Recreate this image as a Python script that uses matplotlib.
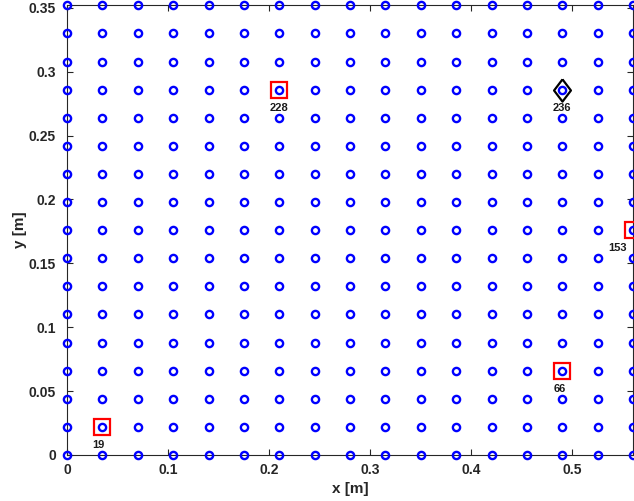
import numpy as np
import matplotlib.pyplot as plt

# sensor grid: 17 columns along x, 17 rows along y
x_nodes = [0.035 * i for i in range(17)]
y_nodes = [0.022 * j for j in range(17)]

# selected node numbers (row-major, 1-based)
picked = [19, 228, 66, 153]
reference_node = 236
label_dx = {19: -3, 228: 0, 236: 0, 66: -2, 153: -11}  # label nudges in points

xx, yy = np.meshgrid(x_nodes, y_nodes)
px = xx.ravel()
py = yy.ravel()

plt.rcParams['font.family'] = ['Liberation Sans', 'DejaVu Sans']
plt.rcParams['font.weight'] = 'bold'

fig = plt.figure(figsize=(6.34, 5.01), dpi=100)
ax = fig.add_axes([67 / 634, 46 / 501, 566 / 634, 449.7 / 501])

ax.plot(px, py, 'o', ls='none', mfc='none', mec=(0, 0, 1), ms=5.2, mew=1.7,
        clip_on=False, zorder=3)

for n in picked:
    ax.plot(px[n - 1], py[n - 1], 's', mfc='none', mec=(1, 0, 0), ms=11.5,
            mew=1.6, clip_on=False, zorder=4)

diamond = [(0, 1), (0.76, 0), (0, -1), (-0.76, 0), (0, 1)]
ax.plot(px[reference_node - 1], py[reference_node - 1], marker=diamond,
        ls='none', mfc='none', mec='k', ms=16, mew=1.6, clip_on=False, zorder=4)

for n in picked + [reference_node]:
    ax.annotate(str(n), (px[n - 1], py[n - 1]), xytext=(label_dx[n], -13),
                textcoords='offset points', ha='center', va='center',
                fontsize=8, fontweight='bold', color='#1a1a1a',
                annotation_clip=False)

ax.set_xlim(0, 0.56)
ax.set_ylim(0, 0.352)
ax.set_xticks([0, 0.1, 0.2, 0.3, 0.4, 0.5])
ax.set_xticklabels(['0', '0.1', '0.2', '0.3', '0.4', '0.5'])
ax.set_yticks([0, 0.05, 0.1, 0.15, 0.2, 0.25, 0.3, 0.35])
ax.set_yticklabels(['0', '0.05', '0.1', '0.15', '0.2', '0.25', '0.3', '0.35'])

ax.tick_params(direction='in', top=True, right=True, length=4, width=0.8,
               color='#262626', labelcolor='#262626', labelsize=10)
ax.tick_params(axis='x', pad=6)
ax.tick_params(axis='y', pad=8)
for sp in ax.spines.values():
    sp.set_color('#262626')
    sp.set_linewidth(0.8)

ax.set_xlabel('x [m]', fontsize=11, fontweight='bold', color='#262626', labelpad=3)
ax.set_ylabel('y [m]', fontsize=11, fontweight='bold', color='#262626', labelpad=1)

fig.savefig('out.png', dpi=100)
